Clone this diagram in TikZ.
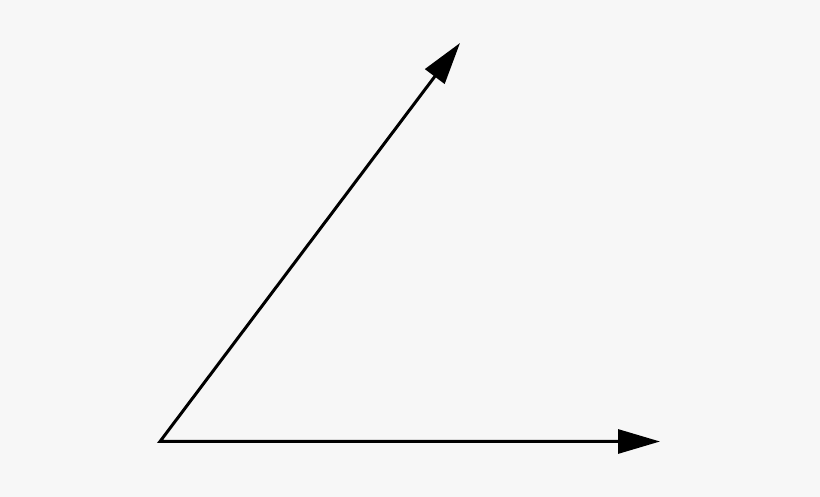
\documentclass[tikz,border=0pt]{standalone}
\usetikzlibrary{arrows.meta}
\definecolor{bg}{HTML}{F7F7F7}
\begin{document}
\begin{tikzpicture}[x=0.5pt,y=-0.5pt,
    >={Triangle[length=21pt,width=12pt]},
    ray/.style={line width=1.5pt}]
    \fill[bg] (0,0) rectangle (820,497);
    \coordinate (vertex) at (160,441.5);
    \coordinate (right) at (660,441.5);
    \coordinate (up) at (460,43);
    \draw[ray,<->] (right) -- (vertex) -- (up);
  \end{tikzpicture}
\end{document}
